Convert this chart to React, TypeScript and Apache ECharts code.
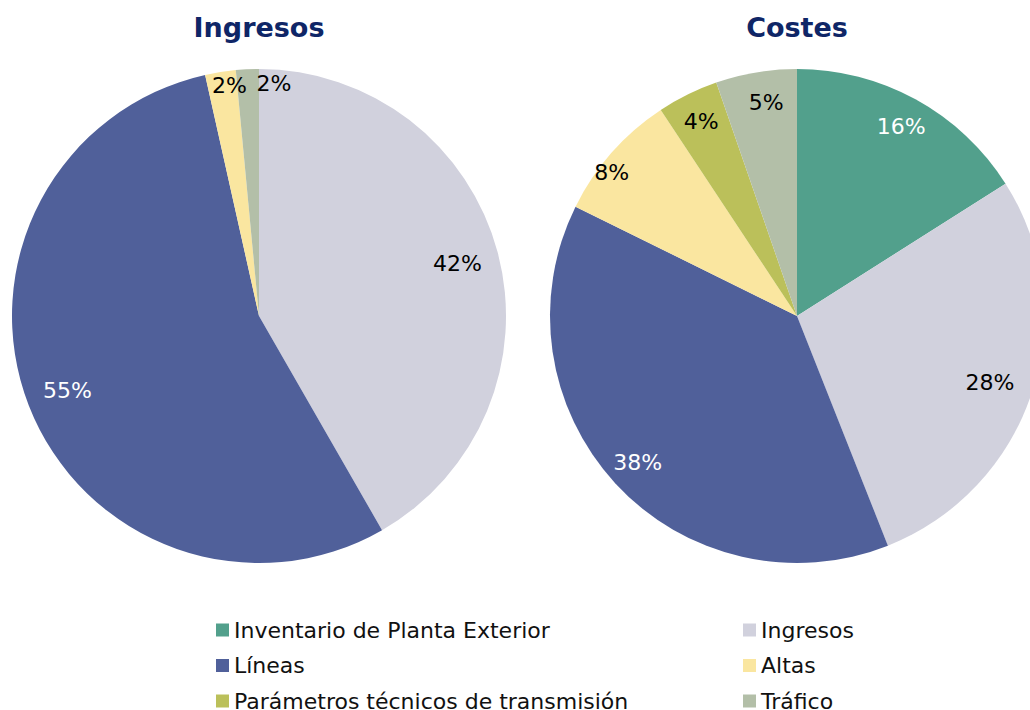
import React, { useEffect, useRef } from "react";
import * as echarts from "echarts";

const categories = [
  "Inventario de Planta Exterior",
  "Ingresos",
  "Líneas",
  "Altas",
  "Parámetros técnicos de transmisión",
  "Tráfico",
];
const sliceColors = ["#52A08C", "#D1D1DD", "#50609A", "#FAE6A0", "#BBC05A", "#B3BFA8"];
const labelColors = ["#FFFFFF", "#000000", "#FFFFFF", "#000000", "#000000", "#000000"];
// percentages (null = not present)
const ingresosValues: (number | null)[] = [null, 41.7, 54.8, 2.0, null, 1.5];
const costesValues: (number | null)[] = [16.0, 28.0, 38.3, 8.4, 4.0, 5.3];
const chartTitles = ["Ingresos", "Costes"];
const legendLeftColumn = [categories[0], categories[2], categories[4]];
const legendRightColumn = [categories[1], categories[3], categories[5]];

// label nudges (padding [top,right,bottom,left]) per category, per pie
const ingresosLabelPad = [null, null, null, [0, 0, 0, 14], null, [0, 0, 0, 52]];
const costesLabelPad = [null, [0, 26, 0, 0], null, [0, 46, 0, 0], null, [0, 0, 0, 10]];

const FONT = "'DejaVu Sans', Verdana, sans-serif";

function sliceData(values: (number | null)[]) {
  const out: any[] = [];
  values.forEach((v, i) => {
    if (v === null) return;
    out.push({ name: categories[i], value: v, itemStyle: { color: sliceColors[i] } });
  });
  return out;
}

function labelData(
  values: (number | null)[],
  showLabel: (v: number) => boolean,
  pads: (number[] | null)[]
) {
  const out: any[] = [];
  values.forEach((v, i) => {
    if (v === null) return;
    out.push({
      name: categories[i],
      value: v,
      itemStyle: { color: "rgba(0,0,0,0)" },
      label: {
        show: showLabel(v),
        position: "inside",
        color: labelColors[i],
        padding: pads[i] || 0,
      },
    });
  });
  return out;
}

export default function App() {
  const ref = useRef<HTMLDivElement>(null);
  useEffect(() => {
    if (!ref.current) return;
    const chart = echarts.init(ref.current, undefined, { renderer: "svg" });
    const R = 247;
    const centers: [number, number][] = [
      [259, 316],
      [797, 316],
    ];
    const overlay = (k: number, inner: number, data: any[]) => ({
      type: "pie",
      center: centers[k],
      radius: [inner, R],
      startAngle: 90,
      clockwise: true,
      silent: true,
      avoidLabelOverlap: false,
      minShowLabelAngle: 0,
      label: {
        show: true,
        position: "inside",
        fontSize: 22,
        fontFamily: FONT,
        formatter: (p: any) => Math.round(p.percent) + "%",
      },
      labelLine: { show: false },
      data,
    });
    const series: any[] = [];
    [ingresosValues, costesValues].forEach((vals, k) => {
      series.push({
        type: "pie",
        center: centers[k],
        radius: R,
        startAngle: 90,
        clockwise: true,
        silent: true,
        label: { show: false },
        labelLine: { show: false },
        data: sliceData(vals),
      });
    });
    // left pie: large slices' labels, then the thin slices' labels nearer the rim
    series.push(overlay(0, 158, labelData(ingresosValues, (v) => v >= 5, ingresosLabelPad)));
    series.push(overlay(0, 213, labelData(ingresosValues, (v) => v < 5, ingresosLabelPad)));
    // right pie labels
    series.push(overlay(1, 180, labelData(costesValues, () => true, costesLabelPad)));

    const legendCommon = {
      orient: "vertical",
      top: 618,
      height: 200,
      padding: 0,
      itemWidth: 13,
      itemHeight: 13,
      itemGap: 11.5,
      icon: "rect",
      selectedMode: false,
      textStyle: { fontSize: 22, fontFamily: FONT, color: "#111111", lineHeight: 24 },
    };
    chart.setOption({
      animation: false,
      backgroundColor: "#FFFFFF",
      legend: [
        { ...legendCommon, left: 216, data: legendLeftColumn },
        { ...legendCommon, left: 743, data: legendRightColumn },
      ],
      graphic: chartTitles.map((t, k) => ({
        type: "text",
        x: centers[k][0],
        y: 27,
        style: {
          text: t,
          align: "center",
          verticalAlign: "middle",
          fontSize: 27,
          fontWeight: "bold",
          fontFamily: FONT,
          fill: "#0F2667",
        },
      })),
      series,
    });
    return () => chart.dispose();
  }, []);
  return (
    <div
      ref={ref}
      style={{ position: "absolute", left: 0, top: 0, width: 1030, height: 710 }}
    />
  );
}
